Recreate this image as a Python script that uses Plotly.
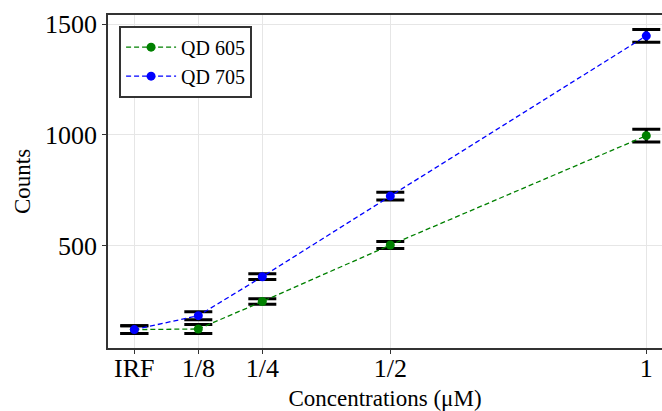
import plotly.graph_objects as go

# Data
x_vals = [0, 0.125, 0.25, 0.5, 1.0]
tick_labels = ["IRF", "1/8", "1/4", "1/2", "1"]
qd605 = [120, 123, 247, 502, 996]
qd605_err = [17, 20, 12, 16, 29]
qd705 = [120, 183, 359, 723, 1447]
qd705_err = [17, 18, 13, 17, 29]

FONT = "Liberation Serif, Times New Roman, serif"

fig = go.Figure()
for name, ys, errs, col in [("QD 605", qd605, qd605_err, "green"),
                            ("QD 705", qd705, qd705_err, "blue")]:
    fig.add_trace(go.Scatter(
        x=x_vals, y=ys, name=name, mode="lines+markers",
        line=dict(color=col, dash="5px,3px", width=1.3),
        marker=dict(color=col, size=9),
        error_y=dict(type="data", array=errs, color="black", thickness=3, width=14),
    ))

fig.update_layout(
    width=662, height=411,
    margin=dict(l=108, r=0, t=15, b=63, autoexpand=False),
    paper_bgcolor="white", plot_bgcolor="white",
    font=dict(family=FONT, color="black"),
    showlegend=True,
    legend=dict(x=0.02, y=0.968, xanchor="left", yanchor="top",
                bgcolor="white", bordercolor="#333333", borderwidth=2,
                itemwidth=50,
                font=dict(size=20, family=FONT)),
    xaxis=dict(
        range=[-0.0514, 1.0307], tickvals=x_vals, ticktext=tick_labels,
        tickfont=dict(size=26), showgrid=True, gridcolor="#e6e6e6",
        showline=True, linecolor="#333333", linewidth=1.5, mirror=True,
        ticks="outside", ticklen=4, tickcolor="#333333", zeroline=False,
        ticklabelstandoff=-8, automargin=False,
        title=dict(text="Concentrations (μM)", font=dict(size=23), standoff=18),
    ),
    yaxis=dict(
        range=[37, 1541], tickvals=[500, 1000, 1500],
        tickfont=dict(size=26), showgrid=True, gridcolor="#e6e6e6",
        showline=True, linecolor="#333333", linewidth=1.5, mirror=False,
        ticks="outside", ticklen=4, tickcolor="#333333", zeroline=False,
        automargin=False,
        title=dict(text="Counts", font=dict(size=23), standoff=8),
    ),
)

fig.write_html("out.html", post_script="document.body.style.margin='0';",
               config={"displayModeBar": False})
